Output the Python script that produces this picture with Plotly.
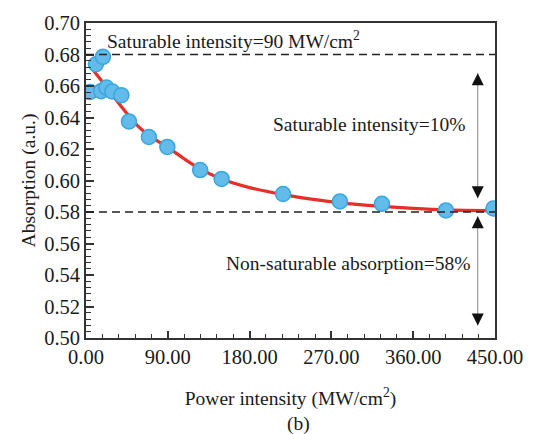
import plotly.graph_objects as go

# Measured data (power intensity MW/cm^2, absorption)
power = [4.4, 10.9, 18.6, 16.6, 22.4, 28.9, 38.9, 47.3, 69.2, 89.5,
         125.6, 149.2, 216.8, 279.4, 325.6, 396.0, 448.2]
absorption = [0.6562, 0.6738, 0.6785, 0.6567, 0.6590, 0.6565, 0.6542, 0.6375,
              0.6276, 0.6213, 0.6066, 0.6010, 0.5914, 0.5867, 0.5852, 0.5810, 0.5822]

# Fitted curve
fit_x = [8, 20, 32, 45, 58, 70, 90, 108, 126, 150, 180, 217, 250, 280, 326, 360, 396, 450]
fit_y = [0.6700, 0.6612, 0.6520, 0.6425, 0.6340, 0.6282, 0.6210, 0.6138, 0.6072,
         0.6008, 0.5955, 0.5910, 0.5880, 0.5858, 0.5836, 0.5823, 0.5813, 0.5808]

sat_level = 0.68
nonsat_level = 0.58

x_ticks = [0, 90, 180, 270, 360, 450]
x_ticktext = ["0.00", "90.00", "180.00", "270.00", "360.00", "450.00"]
y_ticks = [0.50, 0.52, 0.54, 0.56, 0.58, 0.60, 0.62, 0.64, 0.66, 0.68, 0.70]

arrow_x = 431
arrow1 = [0.6681, 0.5888]
arrow2 = [0.5773, 0.5080]

FONT = "Liberation Serif"
TXT = "#1a1a1a"

fig = go.Figure()
fig.add_trace(go.Scatter(x=fit_x, y=fit_y, mode="lines",
                         line=dict(color="#e5302a", width=3.2, shape="spline", smoothing=0.8),
                         showlegend=False, hoverinfo="skip"))
fig.add_trace(go.Scatter(x=power, y=absorption, mode="markers",
                         marker=dict(size=15, color="#62bbe8",
                                     line=dict(color="#3aa6de", width=1.5)),
                         showlegend=False))

# dashed reference lines
for lvl in (sat_level, nonsat_level):
    fig.add_shape(type="line", xref="paper", x0=0, x1=1, yref="y", y0=lvl, y1=lvl,
                  line=dict(color="#222", width=1.6, dash="8px,5px"))

# double-headed arrows: thin gray stems + black heads
for a in (arrow1, arrow2):
    fig.add_shape(type="line", xref="x", yref="y", x0=arrow_x, x1=arrow_x, y0=a[0], y1=a[1],
                  line=dict(color="#8a8a8a", width=1))
    for tip, base in ((a[0], a[0] - 0.006), (a[1], a[1] + 0.006)):
        fig.add_annotation(x=arrow_x, y=tip, ax=arrow_x, ay=base, axref="x", ayref="y",
                           xref="x", yref="y", text="", showarrow=True,
                           arrowhead=2, arrowsize=1.6, arrowwidth=1.5, arrowcolor="#111")

ANN = 19.5
fig.add_annotation(x=21, y=0.6893, xref="x", yref="y", text="Saturable intensity=90 MW/cm<sup>2</sup>",
                   showarrow=False, xanchor="left", yanchor="middle",
                   font=dict(family=FONT, size=ANN, color=TXT))
fig.add_annotation(x=419, y=0.6353, xref="x", yref="y", text="Saturable intensity=10%",
                   showarrow=False, xanchor="right", yanchor="middle",
                   font=dict(family=FONT, size=ANN, color=TXT))
fig.add_annotation(x=425, y=0.547, xref="x", yref="y", text="Non-saturable absorption=58%",
                   showarrow=False, xanchor="right", yanchor="middle",
                   font=dict(family=FONT, size=ANN, color=TXT))
fig.add_annotation(x=0.52, y=-0.274, xref="paper", yref="paper", text="(b)",
                   showarrow=False, xanchor="center", yanchor="middle",
                   font=dict(family=FONT, size=19.5, color=TXT))

fig.update_layout(
    width=546, height=434,
    margin=dict(l=86, r=51, t=20, b=96),
    paper_bgcolor="white", plot_bgcolor="white",
    font=dict(family=FONT, size=20, color=TXT),
    xaxis=dict(range=[0, 450], tickvals=x_ticks, ticktext=x_ticktext,
               tickfont=dict(family=FONT, size=20.5, color=TXT),
               ticks="inside", ticklen=7, tickwidth=1.5, tickcolor="#333",
               minor=dict(ticks="inside", ticklen=4, tickwidth=1.3, dtick=18, tickcolor="#333"),
               showline=True, linecolor="#333", linewidth=1.6, mirror=True,
               showgrid=False, zeroline=False,
               title=dict(text="Power intensity (MW/cm<sup>2</sup>)", standoff=24,
                          font=dict(family=FONT, size=19.5, color=TXT))),
    yaxis=dict(range=[0.50, 0.70], tickvals=y_ticks, tickformat=".2f",
               tickfont=dict(family=FONT, size=20.5, color=TXT),
               ticks="inside", ticklen=8, tickwidth=1.5, tickcolor="#333",
               minor=dict(ticks="inside", ticklen=5, tickwidth=1.3, dtick=0.004, tickcolor="#333"),
               showline=True, linecolor="#333", linewidth=1.6, mirror=True,
               showgrid=False, zeroline=False,
               title=dict(text="Absorption (a.u.)", standoff=3,
                          font=dict(family=FONT, size=19.5, color=TXT))),
)

fig.write_html("out.html")
